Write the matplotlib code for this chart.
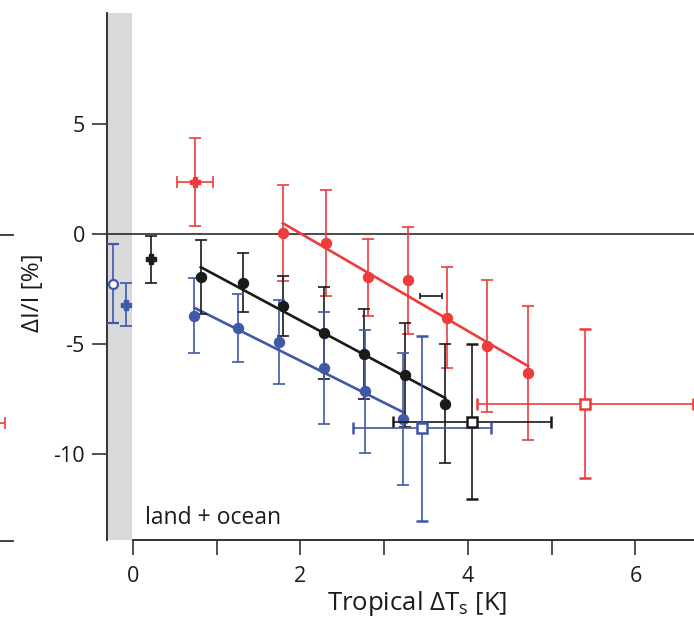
import matplotlib
matplotlib.use("Agg")
import matplotlib.pyplot as plt
from matplotlib.lines import Line2D
import numpy as np

plt.rcParams['font.family'] = ['Open Sans', 'DejaVu Sans']
plt.rcParams['axes.unicode_minus'] = False

RED = '#ee3b3b'
BLUE = '#3f58a8'
BLACK = '#1a1a1a'
GRAY = '#d8d9db'
TXT = '#1c1a1b'

# binned points with fits
red_x = [1.79, 2.30, 2.81, 3.29, 3.75, 4.23, 4.72]
red_y = [0.05, -0.4, -1.95, -2.1, -3.8, -5.1, -6.3]
red_err = [2.2, 2.4, 1.75, 2.42, 2.3, 3.0, 3.05]

black_x = [0.81, 1.31, 1.79, 2.28, 2.76, 3.25, 3.73]
black_y = [-1.95, -2.2, -3.25, -4.5, -5.45, -6.4, -7.7]
black_err = [1.7, 1.35, 1.37, 2.1, 2.05, 2.35, 2.7]

blue_x = [0.73, 1.25, 1.74, 2.28, 2.77, 3.23]
blue_y = [-3.7, -4.25, -4.9, -6.1, -7.15, -8.4]
blue_err = [1.72, 1.55, 1.9, 2.55, 2.8, 3.0]

# linear fits: slope, intercept, x range
fits = {
    'red': (-2.218, 4.47, 1.79, 4.72),
    'black': (-2.038, 0.15, 0.81, 3.73),
    'blue': (-1.904, -1.95, 0.74, 3.23),
}

# single points (x, y, xerr, yerr)
red_single = (0.74, 2.36, 0.21, 2.0)
black_single = (0.22, -1.15, 0.0, 1.05)
blue_single = (-0.08, -3.2, 0.0, 0.98)
blue_circle = (-0.24, -2.25, 0.0, 1.8)

# open squares (x, y, xerr, yerr)
red_square = (5.40, -7.7, 1.29, 3.37)
black_square = (4.05, -8.53, 0.94, 3.52)
blue_square = (3.45, -8.83, 0.82, 4.22)

stray_bar = (3.56, -2.8, 0.13)

fig = plt.figure(figsize=(6.94, 6.28), dpi=100)
ax = fig.add_axes([107 / 694, 1 - 540 / 628, 1 - 107 / 694, (540 - 13) / 628])
ax.set_xlim(-0.31, 6.70)
ax.set_ylim(-13.9, 10.05)

ax.axvspan(-0.31, -0.01, color=GRAY, lw=0, zorder=0)
ax.axhline(0, color=BLACK, lw=1.1, zorder=1)

eb = dict(capsize=4.5, elinewidth=1.2, capthick=1.2, lw=0)

for xs, ys, es, c, key in [(red_x, red_y, red_err, RED, 'red'),
                           (black_x, black_y, black_err, BLACK, 'black'),
                           (blue_x, blue_y, blue_err, BLUE, 'blue')]:
    ax.errorbar(xs, ys, yerr=es, fmt='o', color=c, ms=7.2, zorder=3, **eb)
    s, b, x0, x1 = fits[key]
    fx = np.array([x0, x1])
    ax.plot(fx, s * fx + b, color=c, lw=1.9, zorder=2)

for (x, y, xe, ye), c in [(red_single, RED), (black_single, BLACK), (blue_single, BLUE)]:
    ax.errorbar([x], [y], xerr=[xe] if xe else None, yerr=[ye], fmt='P', color=c,
                ms=7.5, zorder=3, **eb)

x, y, xe, ye = blue_circle
ax.errorbar([x], [y], yerr=[ye], fmt='o', color=BLUE, mfc='white', mec=BLUE,
            mew=1.6, ms=6.5, zorder=3, **eb)

for (x, y, xe, ye), c in [(red_square, RED), (black_square, BLACK), (blue_square, BLUE)]:
    ax.errorbar([x], [y], xerr=[xe], yerr=[ye], fmt='s', color=c, mfc='white',
                mec=c, mew=1.8, ms=6.5, zorder=4, **eb)

x, y, xe = stray_bar
ax.errorbar([x], [y], xerr=[xe], fmt='none', ecolor=BLACK, capsize=2.5,
            elinewidth=1.2, capthick=1.2, zorder=3)

# piece of the neighbouring panel
ax.errorbar([-1.72], [-8.6], xerr=[0.19], fmt='none', ecolor=RED, capsize=4.5,
            elinewidth=1.2, capthick=1.2, clip_on=False)
for yy in (235, 541):
    fig.add_artist(Line2D([0, 13 / 694], [1 - yy / 628] * 2, color='#333333', lw=1.3))

ax.spines['top'].set_visible(False)
ax.spines['right'].set_visible(False)
for sp in ('left', 'bottom'):
    ax.spines[sp].set_linewidth(1.4)
    ax.spines[sp].set_color('#333333')
ax.spines['bottom'].set_bounds(0, 6.70)

ax.set_yticks([5, 0, -5, -10])
ax.set_yticklabels(['5', '0', '-5', '-10'])
ax.set_xticks([0, 2, 4, 6])
ax.set_xticks([1, 3, 5], minor=True)
ax.tick_params(axis='both', which='both', direction='out', length=11, width=1.2,
               color='#333333', labelsize=15.5, labelcolor=TXT)
ax.tick_params(axis='y', pad=5)
ax.tick_params(axis='x', pad=8)

ax.set_xlabel('Tropical \u0394T$_\\mathregular{s}$ [K]', fontsize=18.5, color=TXT, labelpad=1)
ax.xaxis.label.set_x(0.528)
ax.set_ylabel('\u0394I/I [%]', fontsize=17.5, color=TXT)
ax.yaxis.set_label_coords(-62 / 587, 0.47)

ax.text(0.14, -12.9, 'land + ocean', fontsize=16.5, color=TXT, va='center', ha='left')

fig.savefig('out.png', dpi=100)
